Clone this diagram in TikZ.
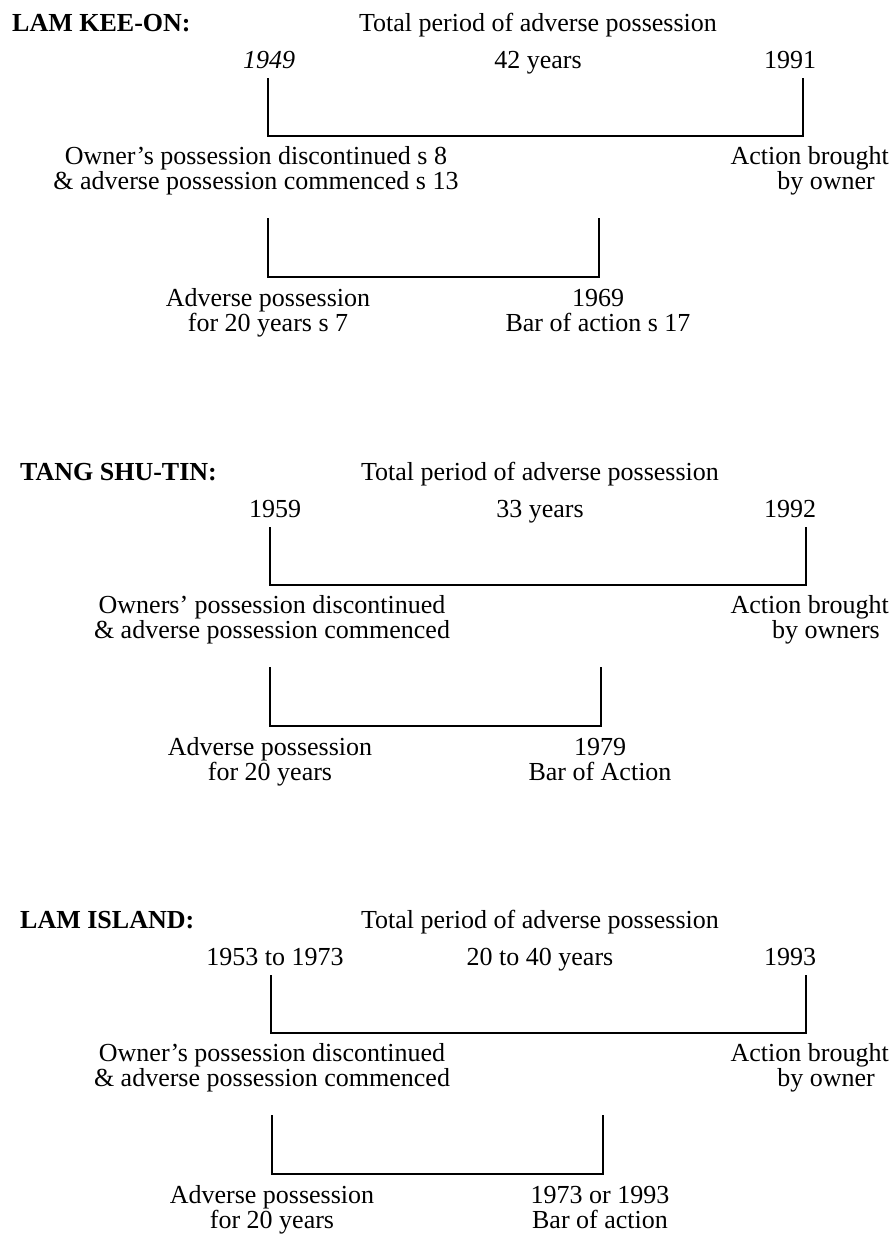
\documentclass[tikz,border=0pt]{standalone}
\usepackage{fontspec}
\setmainfont{Liberation Serif}
\begin{document}
\begin{tikzpicture}[x=1pt,y=-1pt]
\tikzset{
  lbl/.style={font=\fontsize{26}{28}\selectfont, inner sep=0pt, anchor=base},
  rlbl/.style={font=\fontsize{26}{28}\selectfont, inner sep=0pt, anchor=base east},
  ttl/.style={font=\fontsize{26}{28}\selectfont\bfseries, inner sep=0pt, anchor=base west},
  brk/.style={line width=1.6pt, line join=miter},
}
\useasboundingbox[fill=white] (0,0) rectangle (891,1234);

% ---------------- LAM KEE-ON ----------------
\node[ttl] (t1) at (12,31) {LAM KEE-ON:};
\node[lbl] (p1) at (538,31) {Total period of adverse possession};
\node[lbl] (ya1) at (269,68) {\itshape 1949};
\node[lbl] (ym1) at (538,68) {42 years};
\node[lbl] (yb1) at (790,68) {1991};
\coordinate (ba1) at (268,78);
\coordinate (bb1) at (803,78);
\coordinate (bl1) at (0,136);
\draw[brk] (ba1) -- (ba1 |- bl1) -- (bb1 |- bl1) -- (bb1);
\node[lbl] (o1) at (256,164) {Owner’s possession discontinued s 8};
\node[lbl] (o1b) at (256,189) {\& adverse possession commenced s 13};
\node[rlbl] (ac1) at (889,164) {Action brought};
\node[lbl] (ac1b) at (826,189) {by owner};
\coordinate (ca1) at (268,218);
\coordinate (cb1) at (599,218);
\coordinate (cl1) at (0,277);
\draw[brk] (ca1) -- (ca1 |- cl1) -- (cb1 |- cl1) -- (cb1);
\node[lbl] (ad1) at (268,306) {Adverse possession};
\node[lbl] (ad1b) at (268,331) {for 20 years s 7};
\node[lbl] (yr1) at (598,306) {1969};
\node[lbl] (bar1) at (598,331) {Bar of action s 17};

% ---------------- TANG SHU-TIN ----------------
\begin{scope}[shift={(0,449)}]
\node[ttl] (t2) at (20,31) {TANG SHU-TIN:};
\node[lbl] (p2) at (540,31) {Total period of adverse possession};
\node[lbl] (ya2) at (275,68) {1959};
\node[lbl] (ym2) at (540,68) {33 years};
\node[lbl] (yb2) at (790,68) {1992};
\coordinate (ba2) at (270,78);
\coordinate (bb2) at (806,78);
\coordinate (bl2) at (0,136);
\draw[brk] (ba2) -- (ba2 |- bl2) -- (bb2 |- bl2) -- (bb2);
\node[lbl] (o2) at (272,164) {Owners’ possession discontinued};
\node[lbl] (o2b) at (272,189) {\& adverse possession commenced};
\node[rlbl] (ac2) at (889,164) {Action brought};
\node[lbl] (ac2b) at (826,189) {by owners};
\coordinate (ca2) at (270,218);
\coordinate (cb2) at (601,218);
\coordinate (cl2) at (0,277);
\draw[brk] (ca2) -- (ca2 |- cl2) -- (cb2 |- cl2) -- (cb2);
\node[lbl] (ad2) at (270,306) {Adverse possession};
\node[lbl] (ad2b) at (270,331) {for 20 years};
\node[lbl] (yr2) at (600,306) {1979};
\node[lbl] (bar2) at (600,331) {Bar of Action};
\end{scope}

% ---------------- LAM ISLAND ----------------
\begin{scope}[shift={(0,897)}]
\node[ttl] (t3) at (20,31) {LAM ISLAND:};
\node[lbl] (p3) at (540,31) {Total period of adverse possession};
\node[lbl] (ya3) at (275,68) {1953 to 1973};
\node[lbl] (ym3) at (540,68) {20 to 40 years};
\node[lbl] (yb3) at (790,68) {1993};
\coordinate (ba3) at (271,78);
\coordinate (bb3) at (806,78);
\coordinate (bl3) at (0,136);
\draw[brk] (ba3) -- (ba3 |- bl3) -- (bb3 |- bl3) -- (bb3);
\node[lbl] (o3) at (272,164) {Owner’s possession discontinued};
\node[lbl] (o3b) at (272,189) {\& adverse possession commenced};
\node[rlbl] (ac3) at (889,164) {Action brought};
\node[lbl] (ac3b) at (826,189) {by owner};
\coordinate (ca3) at (272,218);
\coordinate (cb3) at (603,218);
\coordinate (cl3) at (0,277);
\draw[brk] (ca3) -- (ca3 |- cl3) -- (cb3 |- cl3) -- (cb3);
\node[lbl] (ad3) at (272,306) {Adverse possession};
\node[lbl] (ad3b) at (272,331) {for 20 years};
\node[lbl] (yr3) at (600,306) {1973 or 1993};
\node[lbl] (bar3) at (600,331) {Bar of action};
\end{scope}
\end{tikzpicture}
\end{document}
